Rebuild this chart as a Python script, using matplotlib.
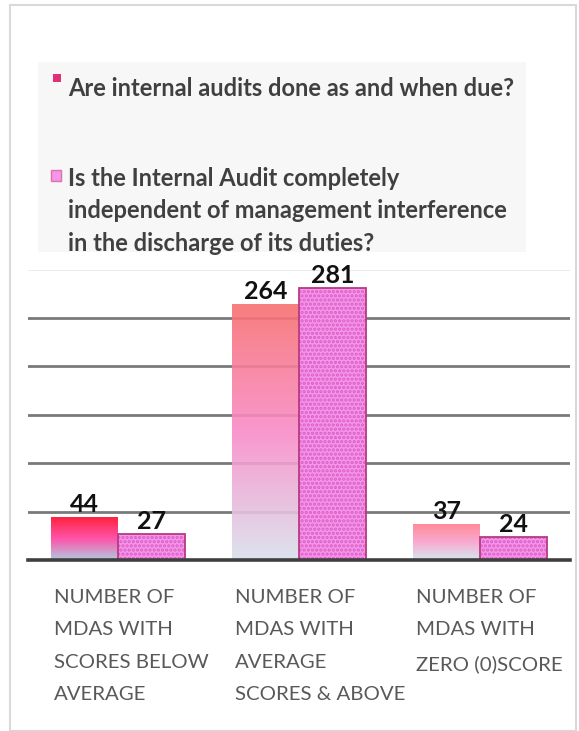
import numpy as np
import matplotlib
matplotlib.use("Agg")
from matplotlib import pyplot as plt
from matplotlib.colors import LinearSegmentedColormap
from matplotlib.patches import Rectangle

# Data
categories = [
    "NUMBER OF\nMDAS WITH\nSCORES BELOW\nAVERAGE",
    "NUMBER OF\nMDAS WITH\nAVERAGE\nSCORES & ABOVE",
    "NUMBER OF\nMDAS WITH\nZERO (0)SCORE",
]
series_names = [
    "Are internal audits done as and when due?",
    "Is the Internal Audit completely\nindependent of management interference\nin the discharge of its duties?",
]
done_when_due = [44, 264, 37]
independent = [27, 281, 24]

W, H = 579, 731
plt.rcParams["font.family"] = ["Lato", "DejaVu Sans"]

fig = plt.figure(figsize=(W / 100, H / 100), dpi=100)


def fx(px):
    return px / W


def fy(py):
    return 1 - py / H


# outer frame and legend panel
fig.add_artist(Rectangle((fx(10), fy(731)), fx(566), (726) / H, transform=fig.transFigure,
                         facecolor="none", edgecolor="#d9d9d9", lw=1.5))
fig.add_artist(Rectangle((fx(38), fy(252)), fx(488), (252 - 62) / H, transform=fig.transFigure,
                         facecolor="#f7f7f7", edgecolor="none"))

ax = fig.add_axes([fx(28), fy(560), fx(570) - fx(28), (560 - 269.6) / H])
ax.set_xlim(-0.5, 2.5)
ax.set_ylim(0, 300)
for s in ["left", "right", "top"]:
    ax.spines[s].set_visible(False)
ax.spines["bottom"].set_color("#3f3f3f")
ax.spines["bottom"].set_linewidth(2.6)
ax.spines["bottom"].set_zorder(5)
ax.set_xticks([])
ax.set_yticks([])
ax.patch.set_alpha(0)

# gridlines
for g in [50, 100, 150, 200, 250]:
    ax.axhline(g, color="#7a7a7a", lw=2, zorder=0)
ax.axhline(300, color="#ececec", lw=1.5, zorder=0)

x = np.arange(len(categories))
bw = 0.37

# first series: vertical gradient fill per bar
grad_stops = [
    ["#a9c4dc", "#ff3fa0", "#ff0a28"],
    ["#d9e1ec", "#f98cc8", "#f77070"],
    ["#cfe6ec", "#f9a0cc", "#ff7f8c"],
]
bars1 = ax.bar(x - bw / 2, done_when_due, width=bw, color="none", edgecolor="none", zorder=2)
for b, stops in zip(bars1, grad_stops):
    cmap = LinearSegmentedColormap.from_list("g", stops)
    grad = np.linspace(0, 1, 256).reshape(-1, 1)
    im = ax.imshow(grad, cmap=cmap, origin="lower", aspect="auto", alpha=0.9,
                   extent=[b.get_x(), b.get_x() + b.get_width(), 0, b.get_height()], zorder=2)
    im.set_clip_path(b)

# second series: dotted pink fill
plt.rcParams["hatch.linewidth"] = 1.6
ax.bar(x + bw / 2, independent, width=bw, color="#f596e8", edgecolor="#dc5cc8",
       hatch="....", lw=0, zorder=3)
ax.bar(x + bw / 2, independent, width=bw, color="none", edgecolor="#b83a82", lw=1.3, zorder=4)
ax.set_xlim(-0.5, 2.5)
ax.set_ylim(0, 300)

# value labels
for xi, v in zip(x - bw / 2, done_when_due):
    ax.text(xi, v + 1, str(v), ha="center", va="bottom", fontsize=18, fontweight="bold", color="#111111", zorder=6)
for xi, v in zip(x + bw / 2, independent):
    ax.text(xi, v + 1, str(v), ha="center", va="bottom", fontsize=18, fontweight="bold", color="#111111", zorder=6)

# category labels
for xi, lab in zip(x, categories):
    ax.text(xi - 0.355, -0.1, lab, transform=ax.get_xaxis_transform(), ha="left", va="top",
            fontsize=14.7, color="#595959", linespacing=2.1)

# legend
fig.add_artist(Rectangle((fx(53), fy(82)), fx(8), 8 / H, transform=fig.transFigure,
                         facecolor="#e0307a", edgecolor="none"))
fig.text(fx(68), fy(89), series_names[0], ha="left", va="center", fontsize=17,
         fontweight="bold", color="#404040")
fig.add_artist(Rectangle((fx(51), fy(181)), fx(10), 11 / H, transform=fig.transFigure,
                         facecolor="#f596e8", edgecolor="#e070b0", lw=1))
fig.text(fx(68), fy(167), series_names[1], ha="left", va="top", fontsize=17,
         fontweight="bold", color="#404040", linespacing=1.5)

fig.savefig("out.png", dpi=100)
